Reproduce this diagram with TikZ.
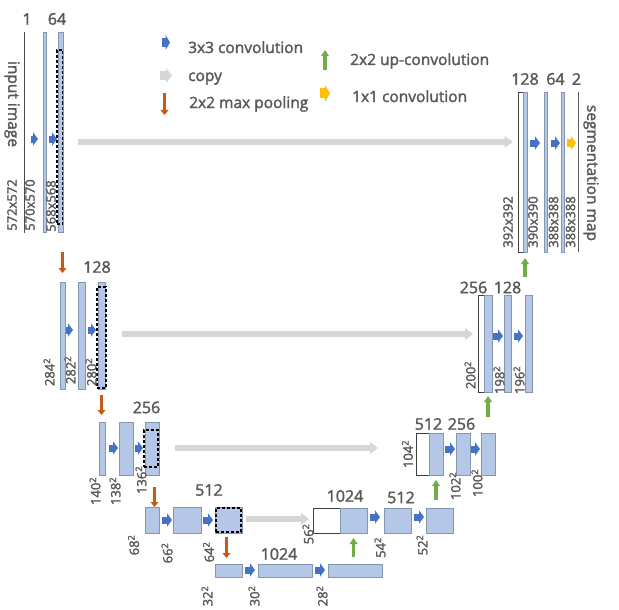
\documentclass[tikz,border=0pt]{standalone}
\usepackage{fontspec}
\setmainfont{Open Sans}[FakeBold=2]
\usetikzlibrary{arrows.meta,fit}
\definecolor{txt}{HTML}{595959}
\definecolor{barfill}{HTML}{B4C7E7}
\definecolor{bardraw}{HTML}{8497B0}
\definecolor{convc}{HTML}{4472C4}
\definecolor{poolc}{HTML}{C55A11}
\definecolor{upc}{HTML}{70AD47}
\definecolor{onec}{HTML}{FFC000}
\definecolor{copyc}{HTML}{D6D6D6}
\begin{document}
\begin{tikzpicture}[x=1pt,y=-1pt,
  bar/.style={draw=bardraw, fill=barfill, line width=0.8pt, inner sep=0pt, outer sep=0pt},
  wbar/.style={draw=black!75, fill=white, line width=0.9pt, inner sep=0pt, outer sep=0pt},
  dbox/.style={draw=black, dash pattern=on 3pt off 2pt, line width=1.5pt, inner sep=0pt, outer sep=0pt},
  thinbar/.style={fill=black!70, inner sep=0pt, outer sep=0pt},
  chan/.style={text=txt, font=\fontsize{16}{18}\selectfont, inner sep=0pt},
  dimlab/.style={text=txt, font=\fontsize{13}{15}\selectfont, inner sep=0pt, rotate=90},
  sidelab/.style={text=txt, font=\fontsize{15.5}{17}\selectfont, inner sep=0pt, rotate=-90},
  leg/.style={text=txt, font=\fontsize{15.5}{17}\selectfont, inner sep=0pt, anchor=base west},
  conv/.style={draw=convc, line width=7pt, -{Triangle[width=13.5pt,length=5pt,line width=0pt]}},
  legconv/.style={draw=convc, line width=9pt, -{Triangle[width=15pt,length=4.5pt,line width=0pt]}},
  onebyone/.style={draw=onec, line width=7.5pt, -{Triangle[width=14pt,length=5pt,line width=0pt]}},
  legone/.style={draw=onec, line width=10pt, -{Triangle[width=17pt,length=5pt,line width=0pt]}},
  copyarr/.style={draw=copyc, line width=6.5pt, -{Triangle[width=12pt,length=8pt,line width=0pt]}},
  legcopy/.style={draw=copyc, line width=9pt, -{Triangle[width=15pt,length=6pt,line width=0pt]}},
  pool/.style={draw=poolc, line width=3.4pt, -{Triangle[width=8pt,length=5pt,line width=0pt]}},
  upconv/.style={draw=upc, line width=3.4pt, -{Triangle[width=8pt,length=6pt,line width=0pt]}}
]
\fill[white] (0,0) rectangle (619,610);
\useasboundingbox (0,0) rectangle (619,610);

% ---------- legend ----------
\coordinate (lg1a) at (162,42.5); \coordinate (lg1b) at (170,42.5);
\coordinate (lg2a) at (160,75.5); \coordinate (lg2b) at (172,75.5);
\coordinate (lg3a) at (164.5,93); \coordinate (lg3b) at (164.5,115);
\coordinate (lg4a) at (325,70);   \coordinate (lg4b) at (325,50);
\coordinate (lg5a) at (320,93.5); \coordinate (lg5b) at (330,93.5);
\draw[legconv] (lg1a) -- (lg1b);
\draw[legcopy] (lg2a) -- (lg2b);
\draw[pool] (lg3a) -- (lg3b);
\draw[upconv] (lg4a) -- (lg4b);
\draw[legone] (lg5a) -- (lg5b);
\node[leg] (lt1) at (188,53) {3x3 convolution};
\node[leg] (lt2) at (188,81) {copy};
\node[leg] (lt3) at (189,108) {2x2 max pooling};
\node[leg] (lt4) at (350,65) {2x2 up-convolution};
\node[leg] (lt5) at (352,102) {1x1 convolution};

% ---------- level 1 left ----------
\node[thinbar, fit={(24,32)(25,233)}] (a1) {};
\node[bar, fit={(43,32)(46.5,232)}] (a2) {};
\node[bar, fit={(58.5,32)(63,232)}] (a3) {};
\node[dbox, fit={(57,50)(62.5,224)}] (a3d) {};
\node[chan] (ca1) at (27,19) {1};
\node[chan] (ca2) at (57,19) {64};
\node[sidelab] (inimg) at (12,104) {input image};
\node[dimlab] (da1) at (12,205) {572x572};
\node[dimlab] (da2) at (30,205) {570x570};
\node[dimlab] (da3) at (51,206) {568x568};
\coordinate (y1) at (0,139);
\draw[conv, shorten <=6pt, shorten >=5pt] (a1.east |- y1) -- (a2.west |- y1);
\draw[conv, shorten <=2.5pt, shorten >=1.5pt] (a2.east |- y1) -- (a3.west |- y1);

% ---------- level 1 right ----------
\node[wbar, fit={(518,92)(523,252)}] (w1) {};
\node[bar, fit={(523,92)(527,252)}] (e1) {};
\node[bar, fit={(544,92)(547.5,252)}] (e2) {};
\node[bar, fit={(561,92)(564.5,252)}] (e3) {};
\node[fill=txt, inner sep=0pt, outer sep=0pt, fit={(577.5,92)(579,252)}] (e4) {};
\node[chan] (ce1) at (525,79) {128};
\node[chan] (ce2) at (555.5,79) {64};
\node[chan] (ce3) at (576.5,79) {2};
\node[dimlab] (de0) at (508,222) {392x392};
\node[dimlab] (de1) at (533,222) {390x390};
\node[dimlab] (de2) at (553.5,222) {388x388};
\node[dimlab] (de3) at (570.5,222) {388x388};
\node[sidelab] (segmap) at (591,173) {segmentation map};
\coordinate (y1r) at (0,143);
\draw[conv, shorten <=3pt, shorten >=4pt] (e1.east |- y1r) -- (e2.west |- y1r);
\draw[conv, shorten <=3.5pt, shorten >=1pt] (e2.east |- y1r) -- (e3.west |- y1r);
\draw[onebyone, shorten <=2.5pt, shorten >=1.5pt] (e3.east |- y1r) -- (e4.west |- y1r);
\coordinate (yc1) at (0,142);
\draw[copyarr, shorten <=15.5pt, shorten >=5.3pt] (a3d.east |- yc1) -- (w1.west |- yc1);

% ---------- level 2 left ----------
\node[bar, fit={(60,282)(65,389)}] (b1) {};
\node[bar, fit={(78,282)(85,389)}] (b2) {};
\node[bar, fit={(98,282)(105,389)}] (b3) {};
\node[dbox, fit={(97,287)(106,388)}] (b3d) {};
\node[chan] (cb) at (97,267) {128};
\node[dimlab] (db1) at (49,372) {284\textsuperscript{2}};
\node[dimlab] (db2) at (70,370) {282\textsuperscript{2}};
\node[dimlab] (db3) at (91,372) {280\textsuperscript{2}};
\coordinate (y2) at (0,330);
\draw[conv, shorten <=1pt, shorten >=5pt] (b1.east |- y2) -- (b2.west |- y2);
\draw[conv, shorten <=3pt, shorten >=2pt] (b2.east |- y2) -- (b3.west |- y2);

% ---------- level 2 right ----------
\node[wbar, fit={(478,295)(484,392)}] (w2) {};
\node[bar, fit={(484,295)(492,392)}] (f1) {};
\node[bar, fit={(504,295)(511,392)}] (f2) {};
\node[bar, fit={(525,295)(532,392)}] (f3) {};
\node[chan] (cf1) at (473.5,287.5) {256};
\node[chan] (cf2) at (507.5,287.5) {128};
\node[dimlab] (df0) at (470,375) {200\textsuperscript{2}};
\node[dimlab] (df1) at (499,380) {198\textsuperscript{2}};
\node[dimlab] (df2) at (519,380) {196\textsuperscript{2}};
\coordinate (y2r) at (0,336);
\draw[conv, shorten <=1pt, shorten >=1pt] (f1.east |- y2r) -- (f2.west |- y2r);
\draw[conv, shorten <=3pt, shorten >=2pt] (f2.east |- y2r) -- (f3.west |- y2r);
\coordinate (yc2) at (0,334);
\draw[copyarr, shorten <=15.7pt, shorten >=5pt] (b3d.east |- yc2) -- (w2.west |- yc2);

% ---------- level 3 left ----------
\node[bar, fit={(99,422)(105,475)}] (c1) {};
\node[bar, fit={(119,422)(133,475)}] (c2) {};
\node[bar, fit={(145,422)(159,475)}] (c3) {};
\node[dbox, fit={(144,430)(158,467)}] (c3d) {};
\node[chan] (cc) at (146.5,407.5) {256};
\node[dimlab] (dc1) at (95,491) {140\textsuperscript{2}};
\node[dimlab] (dc2) at (115,491) {138\textsuperscript{2}};
\node[dimlab] (dc3) at (141,480) {136\textsuperscript{2}};
\coordinate (y3) at (0,448);
\draw[conv, shorten <=4pt, shorten >=1pt] (c1.east |- y3) -- (c2.west |- y3);
\draw[conv, shorten <=2pt, shorten >=2pt] (c2.east |- y3) -- (c3.west |- y3);

% ---------- level 3 right ----------
\node[wbar, fit={(416,433)(429,475)}] (w3) {};
\node[bar, fit={(429,433)(443,475)}] (g1) {};
\node[bar, fit={(456,433)(470,475)}] (g2) {};
\node[bar, fit={(481,433)(495,475)}] (g3) {};
\node[chan] (cg1) at (428.5,424) {512};
\node[chan] (cg2) at (461.5,424) {256};
\node[dimlab] (dg0) at (407.5,454) {104\textsuperscript{2}};
\node[dimlab] (dg1) at (455,486) {102\textsuperscript{2}};
\node[dimlab] (dg2) at (477,483) {100\textsuperscript{2}};
\coordinate (y3r) at (0,449);
\draw[conv, shorten <=2pt, shorten >=1pt] (g1.east |- y3r) -- (g2.west |- y3r);
\draw[conv, shorten <=1pt, shorten >=1pt] (g2.east |- y3r) -- (g3.west |- y3r);
\draw[copyarr, shorten <=17pt, shorten >=38pt] (c3d.east |- y3) -- (w3.west |- y3);

% ---------- level 4 left ----------
\node[bar, fit={(145,507)(159,533)}] (r1) {};
\node[bar, fit={(173,507)(201,533)}] (r2) {};
\node[bar, fit={(215,507)(242,533)}] (r3) {};
\node[dbox, fit={(216,508)(241,532)}] (r3d) {};
\node[chan] (cr) at (209,490) {512};
\node[dimlab] (dr1) at (133.5,545) {68\textsuperscript{2}};
\node[dimlab] (dr2) at (167,553) {66\textsuperscript{2}};
\node[dimlab] (dr3) at (208.5,552) {64\textsuperscript{2}};
\coordinate (y4) at (0,520);
\draw[conv, shorten <=3pt, shorten >=1pt] (r1.east |- y4) -- (r2.west |- y4);
\draw[conv, shorten <=2pt, shorten >=2pt] (r2.east |- y4) -- (r3.west |- y4);

% ---------- level 4 right ----------
\node[wbar, fit={(313,508)(340,533)}] (w4) {};
\node[bar, fit={(340,508)(367,533)}] (h1) {};
\node[bar, fit={(384,508)(411,533)}] (h2) {};
\node[bar, fit={(426,508)(453,533)}] (h3) {};
\node[chan] (ch1) at (345,496) {1024};
\node[chan] (ch2) at (401,497.5) {512};
\node[dimlab] (dh0) at (308,534) {56\textsuperscript{2}};
\node[dimlab] (dh1) at (380,547.5) {54\textsuperscript{2}};
\node[dimlab] (dh2) at (422,545) {52\textsuperscript{2}};
\coordinate (y4r) at (0,517);
\draw[conv, shorten <=3pt, shorten >=4pt] (h1.east |- y4r) -- (h2.west |- y4r);
\draw[conv, shorten <=3pt, shorten >=2pt] (h2.east |- y4r) -- (h3.west |- y4r);
\coordinate (yc4) at (0,519);
\draw[copyarr, shorten <=5pt, shorten >=4pt] (r3d.east |- yc4) -- (w4.west |- yc4);

% ---------- level 5 ----------
\node[bar, fit={(215,564)(242,577)}] (s1) {};
\node[bar, fit={(258,564)(312,577)}] (s2) {};
\node[bar, fit={(328,564)(382,577)}] (s3) {};
\node[chan] (cs) at (279,554) {1024};
\node[dimlab] (ds1) at (207,596) {32\textsuperscript{2}};
\node[dimlab] (ds2) at (254,596) {30\textsuperscript{2}};
\node[dimlab] (ds3) at (322,596) {28\textsuperscript{2}};
\coordinate (y5) at (0,570);
\draw[conv, shorten <=3pt, shorten >=3pt] (s1.east |- y5) -- (s2.west |- y5);
\draw[conv, shorten <=3pt, shorten >=3pt] (s2.east |- y5) -- (s3.west |- y5);

% ---------- max pooling ----------
\coordinate (px3) at (154.5,0);
\coordinate (px4) at (226.5,0);
\draw[pool, shorten <=20pt, shorten >=9pt] (b1.north |- a3.south) -- (b1.north);
\draw[pool, shorten <=6pt, shorten >=7pt] (b3.south) -- (b3.south |- c1.north);
\draw[pool, shorten <=12pt, shorten >=0pt] (px3 |- c3.south) -- (px3 |- r1.north);
\draw[pool, shorten <=4pt, shorten >=6pt] (px4 |- r3.south) -- (px4 |- s1.north);

% ---------- up-convolution ----------
\draw[upconv, shorten <=7pt, shorten >=5pt] (h1.south |- s3.north) -- (h1.south);
\draw[upconv, shorten <=8pt, shorten >=5pt] (g1.south |- h3.north) -- (g1.south);
\draw[upconv, shorten <=16pt, shorten >=4pt] (f1.south |- w3.north) -- (f1.south);
\draw[upconv, shorten <=18pt, shorten >=6pt] (e1.south |- w2.north) -- (e1.south);
\end{tikzpicture}
\end{document}
